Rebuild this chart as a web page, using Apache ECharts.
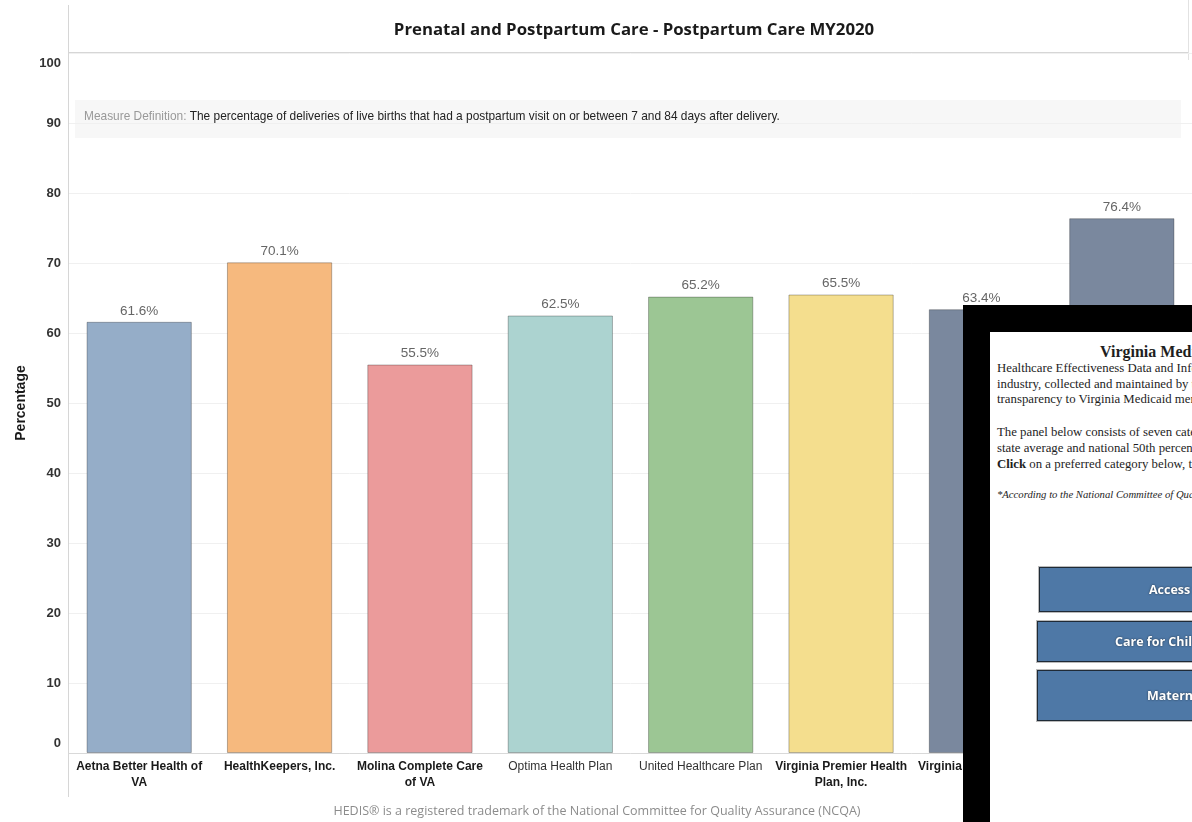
<!DOCTYPE html>
<html>
<head>
<meta charset="utf-8">
<script src="https://cdn.jsdelivr.net/npm/echarts@6/dist/echarts.min.js"></script>
<style>
  body { margin: 0; background: #fff; }
  #chart { width: 1192px; height: 822px; }
  .panel { position: absolute; left: 963px; top: 305px; width: 229px; height: 517px; background: #000; overflow: hidden; }
  .panel .inner { position: absolute; left: 27px; top: 27px; width: 400px; height: 600px; background: #fff;
    font-family: "Liberation Serif", serif; color: #1e1e1e; }
  .panel .line { position: absolute; white-space: nowrap; font-size: 12.8px; }
  .btn { position: absolute; width: 300px; background: #4e78a6; border: 1px solid #1f2a36; box-shadow: 0 0 0 1px #bbb;
    color: #fff; font-family: "Open Sans", sans-serif; font-weight: 700; font-size: 12.5px; white-space: nowrap;
    text-shadow: 0 0 2px #203040; box-sizing: border-box; display: flex; align-items: center; }
</style>
</head>
<body>
<div id="chart"></div>
<div class="panel">
  <div class="inner">
    <div class="line" style="left:110px;top:11px;font-size:16px;font-weight:bold;">Virginia Medicaid HEDIS Dashboard</div>
    <div class="line" style="left:7px;top:29px;">Healthcare Effectiveness Data and Information Set (HEDIS)* is a tool used by the</div>
    <div class="line" style="left:7px;top:45px;">industry, collected and maintained by the health plans, to provide</div>
    <div class="line" style="left:7px;top:60px;">transparency to Virginia Medicaid members.</div>
    <div class="line" style="left:7px;top:93px;">The panel below consists of seven categories of measures, compared with the</div>
    <div class="line" style="left:7px;top:109px;">state average and national 50th percentile.</div>
    <div class="line" style="left:7px;top:125px;"><b>Click</b> on a preferred category below, to view its measures.</div>
    <div class="line" style="left:7px;top:156px;font-size:10.7px;font-style:italic;">*According to the National Committee of Quality Assurance (NCQA)</div>
  </div>
</div>
<div class="btn" style="left:1039px;top:567px;height:45px;padding-left:109px;">Access to Care</div>
<div class="btn" style="left:1037px;top:621px;height:41px;padding-left:77px;">Care for Children and Adolescents</div>
<div class="btn" style="left:1037px;top:670px;height:51px;padding-left:109px;">Maternal Health</div>
<script>
// plans and their postpartum care rates (MY2020)
var plans = ['Aetna Better Health of VA', 'HealthKeepers, Inc.', 'Molina Complete Care of VA', 'Optima Health Plan',
    'United Healthcare Plan', 'Virginia Premier Health Plan, Inc.', 'Virginia State Average', 'National 50th Percentile'];
var rates = [61.6, 70.1, 55.5, 62.5, 65.2, 65.5, 63.4, 76.4];
var barColors = ['#95adc8', '#f6b97e', '#eb9b9b', '#acd3d0', '#9cc694', '#f4de8e', '#7a889e', '#7a889e'];
var regularLabels = ['Optima Health Plan', 'United Healthcare Plan'];

// greedy word wrap, measured with the label's own font
var ctx = document.createElement('canvas').getContext('2d');
function wrap(text, font, maxW) {
    ctx.font = font;
    var words = text.split(' '), lines = [], cur = '';
    words.forEach(function (w) {
        var t = cur ? cur + ' ' + w : w;
        if (cur && ctx.measureText(t).width > maxW) {
            lines.push(cur);
            cur = w;
        } else {
            cur = t;
        }
    });
    lines.push(cur);
    return lines;
}

var myChart = echarts.init(document.getElementById('chart'));

myChart.setOption({
    animation: false,
    title: {
        text: 'Prenatal and Postpartum Care - Postpartum Care MY2020',
        left: 629,
        top: 17,
        textAlign: 'center',
        textStyle: { fontFamily: 'Open Sans', fontWeight: 700, fontSize: 16.8, color: '#1a1a1a' }
    },
    grid: { left: 69, right: 0, top: 53, bottom: 69, outerBoundsMode: 'none' },
    graphic: [
        { type: 'line', shape: { x1: 68.5, y1: 5, x2: 68.5, y2: 797 }, style: { stroke: '#d6d6d6', lineWidth: 1 } },
        { type: 'line', shape: { x1: 68, y1: 52.5, x2: 1188, y2: 52.5 }, style: { stroke: '#d6d6d6', lineWidth: 1 } },
        { type: 'line', shape: { x1: 1188.5, y1: 0, x2: 1188.5, y2: 60 }, style: { stroke: '#e2e2e2', lineWidth: 1 } },
        { type: 'rect', shape: { x: 75, y: 100, width: 1106, height: 38 }, style: { fill: '#f7f7f7' } },
        {
            type: 'text', x: 84, y: 117,
            style: {
                text: '{a|Measure Definition:} The percentage of deliveries of live births that had a postpartum visit on or between 7 and 84 days after delivery.',
                fontFamily: 'Liberation Sans', fontSize: 11.9, fill: '#222', verticalAlign: 'middle',
                rich: { a: { fill: '#999', fontFamily: 'Liberation Sans', fontSize: 11.9 } }
            }
        },
        {
            type: 'text', x: 597, y: 811,
            style: {
                text: 'HEDIS\u00ae is a registered trademark of the National Committee for Quality Assurance (NCQA)',
                fontFamily: 'Open Sans', fontSize: 12.5, fill: '#8c8c8c', align: 'center', verticalAlign: 'middle'
            }
        }
    ],
    xAxis: {
        type: 'category',
        data: plans,
        axisLine: { lineStyle: { color: '#d9d9d9' } },
        axisTick: { show: false },
        axisLabel: {
            interval: 0,
            margin: 6,
            lineHeight: 16,
            fontFamily: 'Liberation Sans',
            fontWeight: 'bold',
            fontSize: 12,
            color: '#1a1a1a',
            formatter: function (v) {
                if (regularLabels.indexOf(v) >= 0) {
                    return wrap(v, '12px "Liberation Sans"', 138).map(function (l) {
                        return '{r|' + l + '}';
                    }).join('\n');
                }
                return wrap(v, 'bold 12px "Liberation Sans"', 138).join('\n');
            },
            rich: {
                r: { fontFamily: 'Liberation Sans', fontWeight: 'normal', fontSize: 12, color: '#333', lineHeight: 16 }
            }
        }
    },
    yAxis: {
        type: 'value',
        min: 0,
        max: 100,
        interval: 10,
        name: 'Percentage',
        nameLocation: 'middle',
        nameGap: 40,
        nameTextStyle: { fontFamily: 'Liberation Sans', fontWeight: 'bold', fontSize: 14, color: '#1a1a1a' },
        axisLine: { show: false },
        axisTick: { show: false },
        axisLabel: {
            margin: 8,
            fontFamily: 'Liberation Sans',
            fontWeight: 'bold',
            fontSize: 13,
            lineHeight: 20,
            color: '#333',
            verticalAlignMinLabel: 'bottom',
            verticalAlignMaxLabel: 'top'
        },
        splitLine: { lineStyle: { color: '#f0f0f0' } }
    },
    series: [{
        type: 'bar',
        barCategoryGap: '25%',
        data: rates.map(function (v, i) {
            return { value: v, itemStyle: { color: barColors[i] } };
        }),
        itemStyle: { borderColor: 'rgba(0,0,0,0.28)', borderWidth: 1 },
        label: {
            show: true,
            position: 'top',
            distance: 4,
            fontFamily: 'Liberation Sans',
            fontSize: 13.5,
            color: '#666',
            formatter: function (p) { return p.value.toFixed(1) + '%'; }
        }
    }]
});
</script>
</body>
</html>
